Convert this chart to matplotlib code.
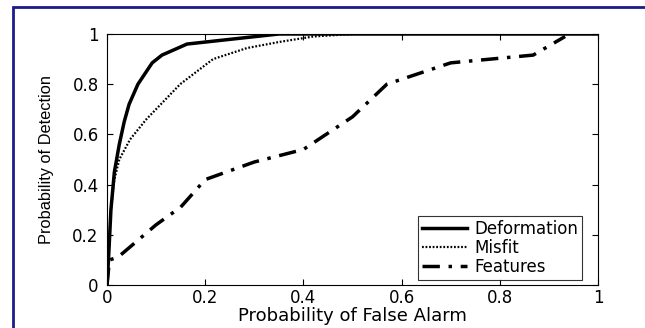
import matplotlib.pyplot as plt
from matplotlib.patches import Rectangle

plt.rcParams['font.family'] = ['DejaVu Sans']

# ROC curves
deform_x = [0, 0.003, 0.008, 0.015, 0.025, 0.035, 0.045, 0.063, 0.092, 0.112, 0.163, 0.35, 1.0]
deform_y = [0, 0.1, 0.3, 0.45, 0.56, 0.65, 0.72, 0.80, 0.885, 0.916, 0.96, 1.0, 1.0]

misfit_x = [0, 0.003, 0.008, 0.015, 0.025, 0.047, 0.08, 0.149, 0.216, 0.285, 0.35, 0.42, 0.5, 1.0]
misfit_y = [0, 0.12, 0.3, 0.42, 0.5, 0.58, 0.66, 0.80, 0.90, 0.944, 0.968, 0.99, 1.0, 1.0]

feat_x = [0, 0.005, 0.022, 0.1, 0.15, 0.2, 0.3, 0.4, 0.5, 0.57, 0.7, 0.868, 0.933]
feat_y = [0, 0.1, 0.11, 0.24, 0.31, 0.42, 0.49, 0.54, 0.67, 0.80, 0.885, 0.916, 0.99]

ticks = [0, 0.2, 0.4, 0.6, 0.8, 1]
tick_labels = ['0', '0.2', '0.4', '0.6', '0.8', '1']

fig = plt.figure(figsize=(6.45, 3.28), dpi=100)
ax = fig.add_axes([107/645, 1-285/328, 491/645, 251/328])

ax.plot(deform_x, deform_y, color='black', lw=2.5, label='Deformation')
ax.plot(misfit_x, misfit_y, color='black', lw=1.6, ls=(0, (0.8, 0.8)), label='Misfit')
ax.plot(feat_x, feat_y, color='black', lw=2.5, ls=(0, (5, 2.5, 1, 2.5)), label='Features')

ax.set_xlim(0, 1)
ax.set_ylim(0, 1)
ax.set_xticks(ticks)
ax.set_xticklabels(tick_labels)
ax.set_yticks(ticks)
ax.set_yticklabels(tick_labels)
ax.tick_params(direction='in', top=True, right=True, labelsize=12, length=4)
ax.tick_params(axis='y', pad=6)
ax.tick_params(axis='x', pad=3)
for s in ax.spines.values():
    s.set_linewidth(0.8)

ax.set_xlabel('Probability of False Alarm', fontsize=13, labelpad=0)
ax.set_ylabel('Probability of Detection', fontsize=11.8, family='Liberation Sans')
ax.yaxis.set_label_coords(-0.108, 0.5)

leg = ax.legend(loc='lower right', bbox_to_anchor=((582-107)/491, 5/251), fontsize=12,
                frameon=True, fancybox=False, edgecolor='black', handlelength=2.7,
                borderpad=0.25, labelspacing=0.05, handletextpad=0.4, borderaxespad=0)
leg.get_frame().set_linewidth(0.8)

fig.patches.append(Rectangle((13/645, -0.1), 1.0, 1.1 - 7/328, transform=fig.transFigure,
                             fill=False, edgecolor='#1c1c8a', lw=2))

fig.savefig('out.png', dpi=100)
